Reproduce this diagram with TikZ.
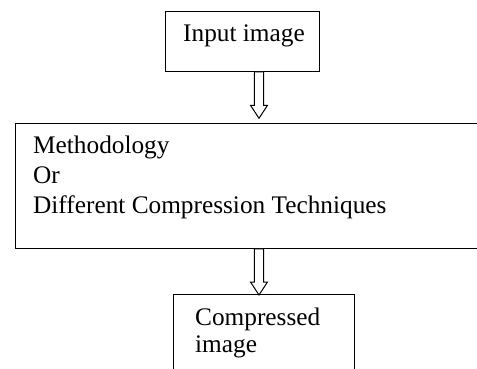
\documentclass[tikz,border=0pt]{standalone}
\usepackage{fontspec}
\setmainfont{Liberation Serif}
\usetikzlibrary{calc}

\tikzset{
  box/.style={draw,line width=1.2pt,inner sep=0pt,anchor=north west},
  txt/.style={inner sep=0pt,align=left,anchor=north west,font=\fontsize{25.3}{30}\selectfont},
  blockarrow/.style={draw,line width=1pt,fill=white,
    to path={let \p1=(\tikztostart), \p2=(\tikztotarget) in
      (\x1-4.7pt,\y1) -- (\x1-4.7pt,\y2+13pt) -- (\x1-8.5pt,\y2+13pt) -- (\x1,\y2)
      -- (\x1+8.5pt,\y2+13pt) -- (\x1+4.7pt,\y2+13pt) -- (\x1+4.7pt,\y1) -- cycle}}
}

\begin{document}
\begin{tikzpicture}[x=1pt,y=-1pt]
    \useasboundingbox (0,0) rectangle (477,368);
    % boxes
    \node[box,minimum width=154pt,minimum height=60pt] (inbox) at (165,10.7) {};
    \node[box,minimum width=480pt,minimum height=125pt] (midbox) at (14.7,122.7) {};
    \node[box,minimum width=181.3pt,minimum height=90pt] (outbox) at (172.7,294) {};
    % texts
    \node[txt,anchor=base west] (intxt) at ([shift={(18pt,-31pt)}]inbox.north west) {Input image};
    \node[txt] (midtxt) at ([shift={(18.3pt,-13.3pt)}]midbox.north west) {Methodology\\Or\\Different Compression Techniques};
    \node[txt,font=\fontsize{25.3}{27}\selectfont] (outtxt) at ([shift={(22.3pt,-13.7pt)}]outbox.north west) {Compressed\\image};
    % arrows
    \coordinate (a1top) at ([xshift=16.4pt]inbox.south);
    \coordinate (a1tip) at ([yshift=4.4pt]a1top |- midbox.north);
    \coordinate (a2top) at (midbox.south -| a1top);
    \coordinate (a2tip) at ([yshift=-1pt]a2top |- outbox.north);
    \draw[blockarrow] (a1top) to (a1tip);
    \draw[blockarrow] (a2top) to (a2tip);
\end{tikzpicture}
\end{document}
